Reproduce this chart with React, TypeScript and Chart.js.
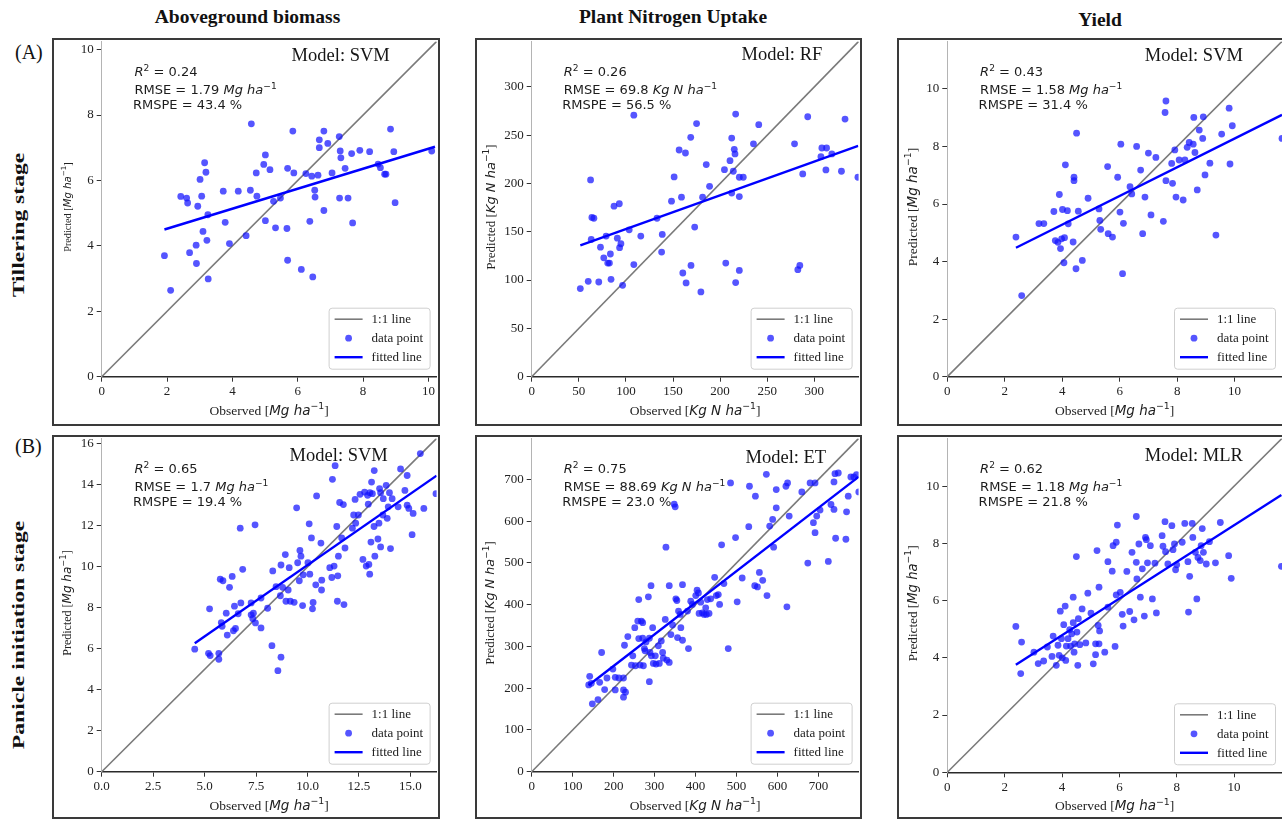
import React, { useEffect, useRef } from "react";
import { Chart, registerables } from "chart.js";

Chart.register(...registerables);

type Pt = [number, number];

// ---------------- text ----------------
const columnTitles = ["Aboveground biomass", "Plant Nitrogen Uptake", "Yield"];
const rowTags = ["(A)", "(B)"];
const rowTitles = ["Tillering stage", "Panicle initiation stage"];
const legendLabels = ["1:1 line", "data point", "fitted line"];
const modelNames = ["SVM", "RF", "SVM", "SVM", "ET", "MLR"];
const r2Values = ["0.24", "0.26", "0.43", "0.65", "0.75", "0.62"];
const rmseValues = ["1.79", "69.8", "1.58", "1.7", "88.69", "1.18"];
const rmspeValues = ["43.4", "56.5", "31.4", "19.4", "23.0", "21.8"];
const unitLabels = ["Mg ha", "Kg N ha", "Mg ha", "Mg ha", "Kg N ha", "Mg ha"];

// ---------------- axes ----------------
const axisMax = [10.25, 347, 11.65, 16.27, 798, 11.67];
const ticksP1 = [0, 2, 4, 6, 8, 10];
const ticksP2 = [0, 50, 100, 150, 200, 250, 300];
const ticksP3 = [0, 2, 4, 6, 8, 10];
const ticksP4x = [0, 2.5, 5, 7.5, 10, 12.5, 15];
const ticksP4y = [0, 2, 4, 6, 8, 10, 12, 14, 16];
const ticksP5 = [0, 100, 200, 300, 400, 500, 600, 700];
const ticksP6 = [0, 2, 4, 6, 8, 10];

// ---------------- data: [observed, predicted] ----------------
const pointsP1: Pt[] = [
  [2.42, 5.51], [2.6, 5.46], [2.63, 5.31], [1.92, 3.7], [2.11, 2.64], [2.69, 3.79], [2.89, 4.02], [2.9, 3.46],
  [2.94, 5.21], [3.01, 6.03], [3.06, 5.52], [3.15, 6.54], [3.19, 6.25], [3.1, 4.44], [3.22, 4.17], [3.25, 4.95],
  [3.26, 2.99], [3.72, 5.67], [3.78, 4.72], [3.91, 4.07], [4.18, 5.67], [4.42, 4.31], [4.55, 5.7], [4.58, 7.73],
  [4.73, 6.23], [4.75, 5.52], [4.96, 6.49], [5.01, 6.78], [5.01, 4.77], [5.15, 6.33], [5.26, 5.36], [5.32, 4.55],
  [5.47, 5.46], [5.67, 4.53], [5.69, 6.37], [5.69, 3.56], [5.85, 7.51], [5.88, 6.23], [6.11, 3.28], [6.25, 6.21],
  [6.37, 4.75], [6.43, 6.13], [6.46, 3.05], [6.52, 5.7], [6.53, 5.49], [6.62, 6.16], [6.66, 7.24], [6.66, 7.0],
  [6.8, 7.51], [6.8, 5.08], [6.92, 7.13], [7.05, 6.23], [7.27, 7.34], [7.3, 6.9], [7.32, 6.69], [7.28, 5.46],
  [7.45, 6.37], [7.54, 5.46], [7.65, 6.82], [7.68, 4.7], [7.9, 6.92], [8.2, 6.88], [8.46, 6.5], [8.53, 6.39],
  [8.66, 6.19], [8.7, 6.19], [8.84, 7.57], [8.94, 6.88], [8.98, 5.32], [10.1, 6.9],
];
const pointsP2: Pt[] = [
  [51.6, 91.2], [60, 98.7], [62.5, 203.6], [63.2, 142], [63.9, 164.8], [66, 164], [71.2, 98], [73, 134],
  [76.5, 123], [79, 145.5], [80.7, 117.6], [82.5, 117.6], [83.5, 127], [84.2, 100.8], [87.4, 176.5], [90.9, 143.4],
  [93, 179], [93.3, 133.5], [94.7, 137.6], [96.5, 94.6], [103.5, 152], [108.4, 270.7], [108.4, 116], [115.8, 145.5],
  [133, 164], [137.9, 129], [138.6, 147.2], [148.4, 181.6], [151.2, 206.7], [156.5, 234.6], [159, 185.8], [160.4, 107.3],
  [163.2, 231.5], [163.9, 97], [168.8, 247.7], [169.1, 115.2], [173, 154.8], [175, 262], [179.6, 87.7], [181.4, 185.8],
  [185.3, 219.5], [188.8, 197], [204.6, 214.3], [206, 117.6], [210.5, 223.6], [212.3, 247], [212.3, 190], [214, 212.6],
  [215, 235.3], [215.8, 230.5], [216.5, 271.8], [216.5, 97.4], [220.4, 206.4], [220.4, 186.4], [220.4, 110], [224.6, 206.4],
  [235.4, 241], [241, 260.8], [279, 241], [282.5, 110.8], [284.6, 115.2], [287.7, 209.8], [293, 269], [307, 227.7],
  [308, 236.7], [313, 236.7], [312.3, 214], [318.6, 230.5], [328.8, 212.6], [332.6, 266.6], [346.3, 206.4],
];
const pointsP3: Pt[] = [
  [2.39, 4.85], [2.59, 2.82], [3.19, 5.32], [3.36, 5.32], [3.71, 5.74], [3.76, 4.73], [3.85, 4.67], [3.9, 6.33],
  [3.94, 4.45], [3.98, 4.79], [4.01, 5.81], [4.06, 3.96], [4.08, 4.83], [4.11, 7.36], [4.18, 5.77], [4.21, 5.31],
  [4.38, 4.68], [4.41, 6.93], [4.41, 6.81], [4.5, 8.46], [4.48, 3.75], [4.56, 5.75], [4.7, 4.04], [4.9, 6.2],
  [5.28, 5.83], [5.31, 5.43], [5.34, 5.12], [5.58, 7.3], [5.6, 4.97], [5.75, 4.85], [5.93, 6.93], [6.01, 5.72],
  [6.04, 8.08], [6.13, 5.33], [6.1, 3.58], [6.36, 6.6], [6.42, 6.35], [6.59, 8.0], [6.73, 7.18], [6.8, 4.97],
  [6.88, 6.24], [7.0, 7.77], [7.09, 5.62], [7.26, 7.62], [7.52, 5.4], [7.58, 9.18], [7.61, 9.58], [7.61, 6.81],
  [7.81, 7.41], [7.84, 6.72], [7.92, 7.88], [7.96, 6.24], [8.07, 7.53], [8.21, 6.14], [8.27, 7.53], [8.35, 7.97],
  [8.42, 8.14], [8.56, 8.08], [8.58, 9.01], [8.62, 7.79], [8.7, 6.49], [8.77, 8.57], [8.89, 8.28], [8.91, 9.03],
  [8.97, 7.01], [9.14, 7.42], [9.35, 4.92], [9.55, 8.43], [9.81, 9.33], [9.84, 7.39], [9.92, 8.72], [11.65, 8.28],
];
const pointsP4: Pt[] = [
  [4.52, 5.98], [5.24, 7.95], [5.19, 5.78], [5.27, 5.67], [5.69, 5.78], [5.69, 5.49], [5.76, 9.4], [5.81, 7.28],
  [5.89, 9.32], [5.85, 7.1], [6.05, 7.74], [6.1, 6.67], [6.21, 9.0], [6.34, 9.53], [6.4, 6.88], [6.45, 8.08],
  [6.5, 6.99], [6.63, 7.71], [6.73, 11.89], [6.76, 8.24], [6.85, 9.88], [7.26, 8.24], [7.26, 7.66], [7.34, 7.47],
  [7.37, 7.74], [7.45, 12.05], [7.47, 7.26], [7.74, 7.02], [7.74, 8.48], [8.06, 7.98], [8.27, 6.15], [8.31, 9.8],
  [8.47, 9.03], [8.56, 4.93], [8.68, 8.59], [8.71, 5.59], [8.71, 10.09], [8.79, 9.0], [8.92, 10.6], [8.95, 8.32],
  [9.06, 8.87], [9.11, 9.96], [9.16, 8.32], [9.35, 8.27], [9.47, 12.88], [9.52, 10.2], [9.6, 9.32], [9.63, 10.8],
  [9.68, 10.52], [9.76, 8.11], [9.79, 9.61], [10.02, 10.2], [10.08, 12.1], [10.11, 9.64], [10.19, 11.41], [10.24, 7.95],
  [10.27, 8.26], [10.4, 9.12], [10.44, 13.46], [10.65, 11.16], [10.68, 8.87], [10.69, 9.35], [11.08, 9.96], [11.18, 9.48],
  [11.21, 14.27], [11.29, 10.04], [11.34, 14.94], [11.42, 11.97], [11.47, 9.56], [11.45, 8.32], [11.5, 10.52], [11.56, 13.14],
  [11.66, 11.41], [11.74, 13.04], [11.77, 8.16], [11.82, 10.92], [12.18, 11.89], [12.24, 12.53], [12.31, 13.29], [12.34, 12.13],
  [12.47, 12.53], [12.55, 13.54], [12.69, 10.36], [12.77, 13.65], [12.85, 10.04], [12.92, 13.49], [12.95, 13.06], [12.98, 10.12],
  [13.02, 9.64], [13.03, 13.62], [13.08, 11.21], [13.11, 14.14], [13.15, 13.57], [13.23, 11.97], [13.24, 14.7], [13.27, 10.52],
  [13.42, 11.36], [13.47, 12.13], [13.5, 13.82], [13.55, 13.62], [13.55, 10.97], [13.66, 12.53], [13.68, 13.33], [13.82, 13.98],
  [13.87, 12.37], [13.92, 12.93], [13.98, 13.62], [14.03, 10.89], [14.11, 13.33], [14.4, 12.93], [14.52, 14.78], [14.73, 13.73],
  [14.84, 14.46], [14.84, 13.01], [14.92, 12.85], [15.08, 11.57], [15.13, 12.61], [15.48, 15.53], [15.65, 12.85], [16.24, 13.57],
];
const pointsP5: Pt[] = [
  [141.6, 228.3], [139.2, 207.7], [145.6, 211.7], [148, 162.5], [161.8, 172.8], [165.9, 214], [170.7, 285.4], [178, 196.6],
  [183.7, 224.4], [198.2, 245.8], [203.9, 195.8], [203.9, 225.9], [212.8, 224.4], [224.1, 224.4], [224.1, 195.8], [224.1, 178.4],
  [226.5, 302.8], [229, 190.3], [234.6, 323.5], [243.5, 255.3], [246.8, 277.5], [251.6, 344.9], [253.2, 253.7], [258.9, 360.7],
  [261.3, 412.2], [261.3, 318.7], [264.6, 255.3], [267.8, 360.7], [271, 356.7], [271, 319.5], [272.7, 253.7], [275.1, 294.9],
  [276.7, 289.4], [279.1, 310.8], [284.8, 418.6], [287.2, 215.6], [287.2, 319.5], [288.8, 285.4], [291.3, 445.5], [292.1, 277.5],
  [295.3, 344.9], [296.9, 259.2], [301.8, 277.5], [303.4, 257.7], [309.1, 301.3], [311.5, 259.2], [316.3, 313.1], [319.6, 285.4],
  [321.2, 271.9], [326, 364.7], [327.7, 537.5], [330.1, 267.2], [335.8, 445.5], [335.8, 261.6], [339.8, 328.2], [343.9, 351.2],
  [347.9, 640.5], [350.3, 634.2], [351.9, 413.8], [354.4, 409.9], [356, 321.1], [358.4, 384.5], [362.5, 376.6], [364.1, 344.9],
  [368.1, 314.7], [368.1, 447.9], [380.3, 384.5], [382.7, 294.9], [388.3, 408.3], [392.4, 400.4], [400.5, 421.8], [403.7, 434.4],
  [407, 428.1], [408.6, 378.9], [412.6, 405.9], [416.7, 380.5], [420.7, 376.6], [424.8, 392.4], [426.4, 376.6], [428.8, 412.2],
  [432.9, 378.9], [436.9, 413.8], [446.6, 465.4], [450.6, 421.8], [455.5, 424.1], [458.7, 400.4], [463.6, 543.1], [469.2, 450.3],
  [479.8, 294.9], [485.4, 691.3], [497.6, 560.5], [501.6, 406.7], [513.8, 463.8], [529.9, 586.7], [531.6, 683.4], [544.5, 445.5],
  [546.1, 659.6], [551, 442.4], [555.8, 477.2], [563.9, 458.2], [572.8, 711.9], [574.4, 421.8], [580.9, 588.2], [588.2, 604.1],
  [590.6, 537.5], [597, 631.8], [597, 675.4], [620.6, 683.4], [623, 394.8], [624.6, 691.3], [628.6, 612], [659.4, 669.9],
  [674, 499.4], [679.6, 691.3], [687.7, 596.2], [691.7, 572.4], [695.8, 612], [691.7, 691.3], [703.9, 626.3], [724.1, 503.4],
  [730.6, 639.8], [737.9, 627.9], [740.3, 713.5], [741.9, 558.9], [737.9, 693.7], [748.4, 715.1], [767, 556.5], [768.6, 622.3],
  [772.7, 659.6], [779.1, 705.6], [786.4, 705.6], [792.9, 711.1], [798.5, 669.9],
];
const pointsP6: Pt[] = [
  [2.39, 5.1], [2.59, 4.55], [2.56, 3.45], [3.02, 4.2], [3.17, 3.8], [3.36, 3.89], [3.49, 4.38], [3.69, 4.76],
  [3.65, 4.05], [3.8, 3.74], [3.86, 4.44], [3.9, 4.09], [3.94, 5.63], [3.98, 4.67], [4.01, 4.0], [4.06, 5.16],
  [4.11, 5.81], [4.13, 3.91], [4.15, 4.41], [4.21, 4.67], [4.27, 4.99], [4.3, 4.41], [4.34, 4.84], [4.39, 6.12],
  [4.39, 5.23], [4.42, 4.2], [4.44, 4.49], [4.5, 7.54], [4.52, 4.9], [4.55, 3.74], [4.57, 5.37], [4.62, 4.46],
  [4.7, 5.71], [4.83, 4.52], [4.9, 6.26], [5.01, 5.56], [5.09, 3.79], [5.17, 4.11], [5.17, 4.49], [5.22, 7.75],
  [5.26, 5.13], [5.29, 6.47], [5.29, 4.49], [5.31, 4.94], [5.49, 4.2], [5.6, 7.36], [5.6, 5.77], [5.75, 7.03],
  [5.78, 7.92], [5.85, 4.4], [5.89, 8.04], [5.93, 8.64], [5.89, 6.2], [6.03, 6.29], [6.1, 5.52], [6.13, 5.11],
  [6.26, 7.02], [6.36, 5.62], [6.44, 7.69], [6.51, 5.33], [6.59, 8.94], [6.59, 7.34], [6.61, 6.76], [6.68, 7.98],
  [6.73, 6.12], [6.8, 7.11], [6.87, 5.46], [6.91, 8.21], [6.94, 8.13], [6.98, 7.32], [7.08, 7.92], [7.15, 6.06],
  [7.24, 7.31], [7.29, 5.57], [7.49, 8.27], [7.52, 7.9], [7.59, 8.76], [7.61, 7.71], [7.69, 7.28], [7.83, 8.62],
  [7.87, 7.78], [7.92, 7.98], [7.96, 7.08], [8.0, 7.25], [8.19, 8.04], [8.28, 8.7], [8.39, 7.36], [8.41, 5.6],
  [8.45, 6.85], [8.54, 8.7], [8.56, 8.21], [8.65, 7.69], [8.7, 6.06], [8.74, 7.51], [8.82, 7.4], [8.85, 7.92],
  [8.89, 8.52], [8.93, 7.69], [9.03, 7.28], [9.14, 8.06], [9.35, 7.32], [9.52, 8.73], [9.81, 7.57], [9.9, 6.78],
  [11.65, 7.2],
];

// fitted lines (end points)
const fitP1: Pt[] = [[1.92, 4.5], [10.2, 7.03]];
const fitP2: Pt[] = [[51.6, 135.9], [346.5, 239]];
const fitP3: Pt[] = [[2.39, 4.48], [11.65, 9.1]];
const fitP4: Pt[] = [[4.52, 6.27], [16.27, 14.45]];
const fitP5: Pt[] = [[139, 207], [798, 706]];
const fitP6: Pt[] = [[2.39, 3.76], [11.65, 9.69]];

// ---------------- layout / style ----------------
const SERIF = '"Liberation Serif", "Times New Roman", serif';
const SANS = '"DejaVu Sans", sans-serif';

type PanelCfg = {
  points: Pt[]; fit: Pt[]; xTicks: number[]; yTicks: number[]; xDec: number;
  left: number; top: number; w: number; h: number;
  yAxisW: number; padTop: number; padRight: number; xAxisH: number;
  yTitle: number; modelX: number; modelDy: number;
};

const panels: PanelCfg[] = [
  { points: pointsP1, fit: fitP1, xTicks: ticksP1, yTicks: ticksP1, xDec: 0,
    left: 52, top: 38, w: 388, h: 388, yAxisW: 49.7, padTop: 1, padRight: 1, xAxisH: 49.3,
    yTitle: 10.2, modelX: 0.567, modelDy: 20 },
  { points: pointsP2, fit: fitP2, xTicks: ticksP2, yTicks: ticksP2, xDec: 0,
    left: 475, top: 38, w: 387, h: 388, yAxisW: 56.7, padTop: 1, padRight: 1.3, xAxisH: 49.3,
    yTitle: 13, modelX: 0.642, modelDy: 19 },
  { points: pointsP3, fit: fitP3, xTicks: ticksP3, yTicks: ticksP3, xDec: 0,
    left: 897, top: 38, w: 390, h: 388, yAxisW: 50.3, padTop: 1, padRight: 5, xAxisH: 49.3,
    yTitle: 13.5, modelX: 0.59, modelDy: 19.5 },
  { points: pointsP4, fit: fitP4, xTicks: ticksP4x, yTicks: ticksP4y, xDec: 1,
    left: 52, top: 435, w: 388, h: 384, yAxisW: 49.7, padTop: 1, padRight: 1, xAxisH: 47.3,
    yTitle: 12, modelX: 0.561, modelDy: 22.5 },
  { points: pointsP5, fit: fitP5, xTicks: ticksP5, yTicks: ticksP5, xDec: 0,
    left: 475, top: 435, w: 387, h: 384, yAxisW: 56.7, padTop: 1, padRight: 1.3, xAxisH: 47.3,
    yTitle: 12.8, modelX: 0.654, modelDy: 24.5 },
  { points: pointsP6, fit: fitP6, xTicks: ticksP6, yTicks: ticksP6, xDec: 0,
    left: 897, top: 435, w: 390, h: 384, yAxisW: 50.3, padTop: 2, padRight: 5, xAxisH: 46.7,
    yTitle: 13.2, modelX: 0.59, modelDy: 23 },
];

type Seg = { t: string; f: string; dy?: number };

function richWidth(ctx: CanvasRenderingContext2D, segs: Seg[]) {
  let w = 0;
  for (const s of segs) { ctx.font = s.f; w += ctx.measureText(s.t).width; }
  return w;
}
function drawRich(ctx: CanvasRenderingContext2D, segs: Seg[], x: number, y: number) {
  let cx = x;
  for (const s of segs) {
    ctx.font = s.f;
    ctx.fillText(s.t, cx, y + (s.dy || 0));
    cx += ctx.measureText(s.t).width;
  }
}
function titleSegs(word: string, unit: string, size: number): Seg[] {
  return [
    { t: word + " [", f: `${size}px ${SERIF}` },
    { t: unit, f: `italic ${size}px ${SANS}` },
    { t: "\u22121", f: `${(size * 0.7).toFixed(1)}px ${SANS}`, dy: -size * 0.42 },
    { t: "]", f: `${size}px ${SERIF}` },
  ];
}

function decorPlugin(i: number) {
  return {
    id: "decor" + i,
    afterDraw(chart: any) {
      const P = panels[i];
      const ctx: CanvasRenderingContext2D = chart.ctx;
      const a = chart.chartArea;
      const W = chart.width, H = chart.height;
      const pw = a.right - a.left;
      ctx.save();
      ctx.textAlign = "left";
      ctx.textBaseline = "alphabetic";

      // model label
      ctx.fillStyle = "#161616";
      ctx.font = `18.5px ${SERIF}`;
      ctx.fillText(`Model: ${modelNames[i]}`, a.left + P.modelX * pw, a.top + P.modelDy);

      // statistics
      const S = 13;
      const sans = `${S}px ${SANS}`, sansI = `italic ${S}px ${SANS}`, sup = `${(S * 0.7).toFixed(1)}px ${SANS}`;
      const sx = a.left + 0.098 * pw;
      ctx.fillStyle = "#1c1c1c";
      drawRich(ctx, [{ t: "R", f: sansI }, { t: "2", f: sup, dy: -S * 0.42 }, { t: ` = ${r2Values[i]}`, f: sans }], sx, a.top + 35);
      drawRich(ctx, [{ t: `RMSE = ${rmseValues[i]} `, f: sans }, { t: unitLabels[i], f: sansI }, { t: "\u22121", f: sup, dy: -S * 0.42 }], sx, a.top + 53);
      drawRich(ctx, [{ t: `RMSPE = ${rmspeValues[i]} %`, f: sans }], sx - 1.5, a.top + 68);

      // legend
      const ds = chart.data.datasets;
      const byLabel = (l: string) => ds.find((d: any) => d.label === l);
      const bw = 101, bh = 61;
      const bx = a.right - 7 - bw, by = a.bottom - 8 - bh;
      ctx.beginPath();
      if ((ctx as any).roundRect) (ctx as any).roundRect(bx + 0.5, by + 0.5, bw, bh, 3);
      else ctx.rect(bx + 0.5, by + 0.5, bw, bh);
      ctx.fillStyle = "rgba(255,255,255,0.85)";
      ctx.fill();
      ctx.strokeStyle = "#cfcfcf";
      ctx.lineWidth = 1;
      ctx.stroke();
      ctx.font = `13px ${SERIF}`;
      ctx.textBaseline = "middle";
      legendLabels.forEach((lab, k) => {
        const d = byLabel(lab);
        const y = by + 11.5 + k * 19;
        if (d && d.showLine) {
          ctx.strokeStyle = d.borderColor;
          ctx.lineWidth = d.borderWidth;
          ctx.beginPath();
          ctx.moveTo(bx + 6, y);
          ctx.lineTo(bx + 34, y);
          ctx.stroke();
        } else if (d) {
          ctx.fillStyle = d.backgroundColor;
          ctx.beginPath();
          ctx.arc(bx + 20, y, d.pointRadius, 0, Math.PI * 2);
          ctx.fill();
        }
        ctx.fillStyle = "#222";
        ctx.fillText(lab, bx + 43, y + 0.5);
      });
      ctx.textBaseline = "alphabetic";

      // x title
      ctx.fillStyle = "#222";
      const xt = titleSegs("Observed", unitLabels[i], 13.5);
      const xw = richWidth(ctx, xt);
      drawRich(ctx, xt, (a.left + a.right) / 2 - xw / 2, a.bottom + 38);

      // y title
      const yt = titleSegs("Predicted", unitLabels[i], P.yTitle);
      const yw = richWidth(ctx, yt);
      ctx.save();
      ctx.translate(15, (a.top + a.bottom) / 2 - 2);
      ctx.rotate(-Math.PI / 2);
      drawRich(ctx, yt, -yw / 2, P.yTitle * 0.35);
      ctx.restore();

      // frame
      ctx.strokeStyle = "#3a3a3a";
      ctx.lineWidth = 2;
      ctx.strokeRect(1, 1, W - 2, H - 2);
      ctx.restore();
    },
  };
}

function makeConfig(i: number): any {
  const P = panels[i];
  const max = axisMax[i];
  const tickFont = { family: SERIF, size: 13 };
  return {
    type: "scatter",
    data: {
      datasets: [
        {
          label: legendLabels[2],
          data: P.fit.map(([x, y]) => ({ x, y })),
          showLine: true, borderColor: "#0000ff", backgroundColor: "#0000ff",
          borderWidth: 2.4, pointRadius: 0, order: 0,
        },
        {
          label: legendLabels[1],
          data: P.points.map(([x, y]) => ({ x, y })),
          backgroundColor: "rgba(20,20,255,0.72)", borderWidth: 0,
          pointRadius: 3.4, pointHoverRadius: 3.4, order: 1,
        },
        {
          label: legendLabels[0],
          data: [{ x: 0, y: 0 }, { x: max, y: max }],
          showLine: true, borderColor: "#7a7a7a", backgroundColor: "#7a7a7a",
          borderWidth: 1.6, pointRadius: 0, order: 2,
        },
      ],
    },
    options: {
      animation: false,
      responsive: false,
      events: [],
      layout: { padding: { left: 0, top: P.padTop, right: P.padRight, bottom: 0 } },
      plugins: { legend: { display: false }, tooltip: { enabled: false }, title: { display: false } },
      scales: {
        x: {
          type: "linear", min: 0, max,
          afterBuildTicks: (s: any) => { s.ticks = P.xTicks.map((v) => ({ value: v })); },
          afterFit: (s: any) => { s.height = P.xAxisH; s.paddingLeft = 0; s.paddingRight = 0; },
          ticks: {
            font: tickFont, color: "#222", padding: 2, maxRotation: 0, autoSkip: false,
            callback: (v: any) => Number(v).toFixed(P.xDec),
          },
          grid: { display: true, drawOnChartArea: false, drawTicks: true, tickLength: 5, color: "#333", lineWidth: 1 },
          border: { display: true, color: "#2a2a2a", width: 1.5 },
        },
        y: {
          type: "linear", min: 0, max,
          afterBuildTicks: (s: any) => { s.ticks = P.yTicks.map((v) => ({ value: v })); },
          afterFit: (s: any) => { s.width = P.yAxisW; s.paddingTop = 0; s.paddingBottom = 0; },
          ticks: {
            font: tickFont, color: "#222", padding: 3, autoSkip: false,
            callback: (v: any) => Number(v).toFixed(0),
          },
          grid: { display: true, drawOnChartArea: false, drawTicks: true, tickLength: 5, color: "#333", lineWidth: 1 },
          border: { display: true, color: "#b4b4b4", width: 1 },
        },
      },
    },
    plugins: [decorPlugin(i)],
  };
}

function Panel({ idx }: { idx: number }) {
  const ref = useRef<HTMLCanvasElement>(null);
  const P = panels[idx];
  useEffect(() => {
    if (!ref.current) return;
    const chart = new Chart(ref.current, makeConfig(idx));
    return () => chart.destroy();
  }, [idx]);
  return (
    <div style={{ position: "absolute", left: P.left, top: P.top, width: P.w, height: P.h }}>
      <canvas ref={ref} width={P.w} height={P.h} style={{ width: P.w, height: P.h }} />
    </div>
  );
}

const colCenters = [247.5, 673, 1100];
const colTitleTops = [6.5, 6.5, 9.5];
const rowTagTops = [42, 436];
const rowCenters = [225, 635];

export default function App() {
  return (
    <div style={{ position: "fixed", left: 0, top: 0, width: 1282, height: 820, overflow: "hidden", background: "#fff" }}>
      {columnTitles.map((t, c) => (
        <div key={t} style={{
          position: "absolute", left: colCenters[c], top: colTitleTops[c], transform: "translateX(-50%)",
          font: `bold 19.5px ${SERIF}`, lineHeight: "20px", whiteSpace: "nowrap", color: "#111",
        }}>{t}</div>
      ))}
      {rowTags.map((t, r) => (
        <div key={t} style={{
          position: "absolute", left: 15, top: rowTagTops[r],
          font: `20px ${SERIF}`, lineHeight: "20px", whiteSpace: "nowrap", color: "#111",
        }}>{t}</div>
      ))}
      {rowTitles.map((t, r) => (
        <div key={t} style={{
          position: "absolute", left: 17.5, top: rowCenters[r],
          transform: "translate(-50%, -50%) rotate(-90deg) scaleX(1.35)",
          font: `bold 17.5px ${SERIF}`, lineHeight: "18px", whiteSpace: "nowrap", color: "#111",
        }}>{t}</div>
      ))}
      {panels.map((_, i) => <Panel key={i} idx={i} />)}
    </div>
  );
}
